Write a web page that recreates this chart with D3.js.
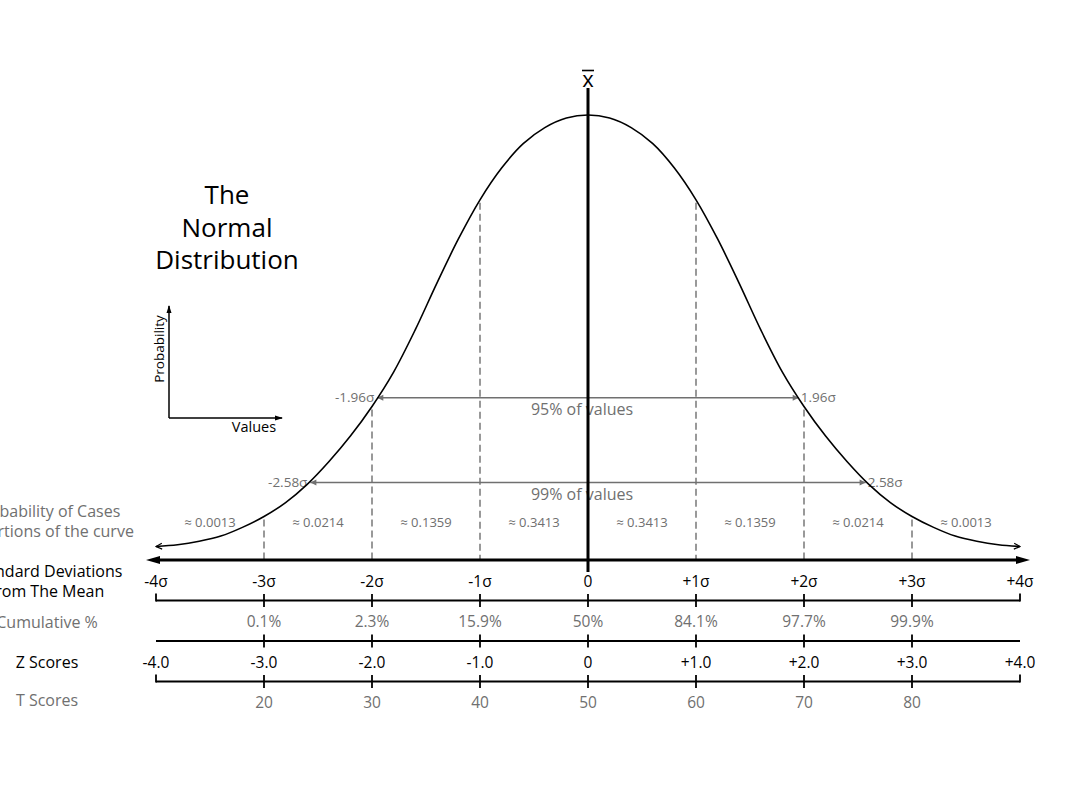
<!DOCTYPE html>
<html>
<head>
<meta charset="utf-8">
<script src="https://cdn.jsdelivr.net/npm/d3@7"></script>
<style>
  body { margin: 0; background: #fff; }
  svg text { font-family: "Open Sans", "Noto Sans", sans-serif; }
</style>
</head>
<body>
<div id="chart"></div>
<script>
// curve heights (fraction of peak), at z positions
const curveZ = [-4.0, -3.8, -3.6, -3.4, -3.2, -3.0, -2.8, -2.6, -2.4, -2.2, -2.0, -1.8, -1.6, -1.4, -1.2, -1.0, -0.8, -0.6, -0.4, -0.2, 0,
                0.2, 0.4, 0.6, 0.8, 1.0, 1.2, 1.4, 1.6, 1.8, 2.0, 2.2, 2.4, 2.6, 2.8, 3.0, 3.2, 3.4, 3.6, 3.8, 4.0];
const curveH = [0.008, 0.012, 0.020, 0.032, 0.052, 0.077, 0.109, 0.151, 0.203, 0.262, 0.330, 0.409, 0.506, 0.613, 0.715, 0.805, 0.878, 0.934, 0.971, 0.993, 1.0,
                0.993, 0.971, 0.934, 0.878, 0.805, 0.715, 0.613, 0.506, 0.409, 0.330, 0.262, 0.203, 0.151, 0.109, 0.077, 0.052, 0.032, 0.020, 0.012, 0.008];

// standard deviation row
const sigmaTicks = [-4, -3, -2, -1, 0, 1, 2, 3, 4];
const sigmaLabels = ["-4σ", "-3σ", "-2σ", "-1σ", "0", "+1σ", "+2σ", "+3σ", "+4σ"];

// dashed separators
const dashZ = [-3, -2, -1, 1, 2, 3];

// probability of cases per band
const bandCenters = [-3.5, -2.5, -1.5, -0.5, 0.5, 1.5, 2.5, 3.5];
const bandLabels = ["≈ 0.0013", "≈ 0.0214", "≈ 0.1359", "≈ 0.3413", "≈ 0.3413", "≈ 0.1359", "≈ 0.0214", "≈ 0.0013"];

// cumulative %
const cumTicks = [-3, -2, -1, 0, 1, 2, 3];
const cumLabels = ["0.1%", "2.3%", "15.9%", "50%", "84.1%", "97.7%", "99.9%"];

// z scores
const zTicks = [-4, -3, -2, -1, 0, 1, 2, 3, 4];
const zLabels = ["-4.0", "-3.0", "-2.0", "-1.0", "0", "+1.0", "+2.0", "+3.0", "+4.0"];

// t scores
const tTicks = [-3, -2, -1, 0, 1, 2, 3];
const tLabels = ["20", "30", "40", "50", "60", "70", "80"];

// confidence intervals
const ciZ = [1.96, 2.58];
const ciH = [0.350, 0.155];
const ciLabels = ["95% of values", "99% of values"];
const ciBounds = ["1.96σ", "2.58σ"];

const width = 1080, height = 810;
const gray = "#707070";

const svg = d3.select("#chart").append("svg")
    .attr("width", width)
    .attr("height", height);

const x = d3.scaleLinear().domain([-4, 4]).range([156, 1020]);
const y = d3.scaleLinear().domain([0, 1]).range([550, 115]);

// markers
const defs = svg.append("defs");
defs.append("marker")
    .attr("id", "bigArrow")
    .attr("viewBox", "0 -5 14 10")
    .attr("refX", 0).attr("refY", 0)
    .attr("markerUnits", "userSpaceOnUse")
    .attr("markerWidth", 14).attr("markerHeight", 10)
    .attr("orient", "auto-start-reverse")
    .append("path").attr("d", "M0,-4L14,0L0,4Z").attr("fill", "#000");

defs.append("marker")
    .attr("id", "openArrow")
    .attr("viewBox", "-1 -4 8 8")
    .attr("refX", 6).attr("refY", 0)
    .attr("markerUnits", "userSpaceOnUse")
    .attr("markerWidth", 8).attr("markerHeight", 8)
    .attr("orient", "auto-start-reverse")
    .append("path").attr("d", "M0,-3L6,0L0,3").attr("fill", "none").attr("stroke", "#000").attr("stroke-width", 1.2);

defs.append("marker")
    .attr("id", "grayArrow")
    .attr("viewBox", "-1 -4 8 8")
    .attr("refX", 6).attr("refY", 0)
    .attr("markerUnits", "userSpaceOnUse")
    .attr("markerWidth", 8).attr("markerHeight", 8)
    .attr("orient", "auto-start-reverse")
    .append("path").attr("d", "M0,-3L6,0L0,3Z").attr("fill", gray);

defs.append("marker")
    .attr("id", "smallArrow")
    .attr("viewBox", "0 -4 8 8")
    .attr("refX", 7).attr("refY", 0)
    .attr("markerUnits", "userSpaceOnUse")
    .attr("markerWidth", 8).attr("markerHeight", 8)
    .attr("orient", "auto-start-reverse")
    .append("path").attr("d", "M0,-2.5L8,0L0,2.5Z").attr("fill", "#000");

// lookup curve height at a z
const hAt = z => curveH[curveZ.indexOf(z)];

// dashed separators from curve to axis
svg.selectAll(".sep")
    .data(dashZ)
    .enter()
    .append("line")
    .attr("class", "sep")
    .attr("x1", d => x(d)).attr("x2", d => x(d))
    .attr("y1", d => y(hAt(d)) + 3)
    .attr("y2", 560)
    .attr("stroke", "#808080")
    .attr("stroke-width", 1.6)
    .attr("stroke-dasharray", "7,4");

// confidence interval lines
ciZ.forEach((z, i) => {
    const yy = y(ciH[i]);
    svg.append("line")
        .attr("x1", x(-z) + 1).attr("x2", x(z) - 1)
        .attr("y1", yy).attr("y2", yy)
        .attr("stroke", gray)
        .attr("stroke-width", 1.5)
        .attr("marker-start", "url(#grayArrow)")
        .attr("marker-end", "url(#grayArrow)");
    svg.append("text")
        .attr("x", x(-z) - 2).attr("y", yy + 4.5)
        .attr("text-anchor", "end")
        .attr("font-size", 13.5)
        .attr("fill", gray)
        .text("-" + ciBounds[i]);
    svg.append("text")
        .attr("x", x(z) + 1).attr("y", yy + 4.5)
        .attr("text-anchor", "start")
        .attr("font-size", 13.5)
        .attr("fill", gray)
        .text(ciBounds[i]);
    svg.append("text")
        .attr("x", 582).attr("y", yy + 17.5)
        .attr("text-anchor", "middle")
        .attr("font-size", 16)
        .attr("fill", gray)
        .text(ciLabels[i]);
});

// the bell curve
const line = d3.line()
    .x(d => x(d[0]))
    .y(d => y(d[1]))
    .curve(d3.curveCatmullRom);

svg.append("path")
    .datum(curveZ.map((z, i) => [z, curveH[i]]))
    .attr("d", line)
    .attr("fill", "none")
    .attr("stroke", "#000")
    .attr("stroke-width", 1.6)
    .attr("marker-start", "url(#openArrow)")
    .attr("marker-end", "url(#openArrow)");

// mean line and x-bar
svg.append("line")
    .attr("x1", x(0)).attr("x2", x(0))
    .attr("y1", 88).attr("y2", 572)
    .attr("stroke", "#000")
    .attr("stroke-width", 3);

svg.append("text")
    .attr("x", x(0)).attr("y", 87)
    .attr("text-anchor", "middle")
    .attr("font-size", 22)
    .text("x");
svg.append("line")
    .attr("x1", x(0) - 6).attr("x2", x(0) + 6)
    .attr("y1", 70.5).attr("y2", 70.5)
    .attr("stroke", "#000")
    .attr("stroke-width", 1.6);

// main horizontal axis with arrows
svg.append("line")
    .attr("x1", x(-4) + 4).attr("x2", x(4) - 4)
    .attr("y1", 560).attr("y2", 560)
    .attr("stroke", "#000")
    .attr("stroke-width", 3)
    .attr("marker-start", "url(#bigArrow)")
    .attr("marker-end", "url(#bigArrow)");

// band probabilities
svg.selectAll(".band")
    .data(bandCenters)
    .enter()
    .append("text")
    .attr("class", "band")
    .attr("x", d => x(d))
    .attr("y", 527)
    .attr("text-anchor", "middle")
    .attr("font-size", 13)
    .attr("fill", gray)
    .text((d, i) => bandLabels[i]);

// helper for labelled rows
function labelRow(ticks, labels, yy, color) {
    svg.append("g")
        .selectAll("text")
        .data(ticks)
        .enter()
        .append("text")
        .attr("x", d => x(d))
        .attr("y", yy)
        .attr("text-anchor", "middle")
        .attr("font-size", 15.5)
        .attr("fill", color)
        .text((d, i) => labels[i]);
}

// bracket style line with ticks
function bracket(yy, innerTicks, withEnds) {
    const g = svg.append("g").attr("stroke", "#000").attr("stroke-width", 1.8);
    g.append("line")
        .attr("x1", x(-4)).attr("x2", x(4))
        .attr("y1", yy).attr("y2", yy);
    if (withEnds) {
        g.selectAll(".end")
            .data([-4, 4])
            .enter()
            .append("line")
            .attr("x1", d => x(d)).attr("x2", d => x(d))
            .attr("y1", yy - 7).attr("y2", yy + 0.9);
    }
    g.selectAll(".tk")
        .data(innerTicks)
        .enter()
        .append("line")
        .attr("x1", d => x(d)).attr("x2", d => x(d))
        .attr("y1", yy - 6.5).attr("y2", yy + 6.5);
}

labelRow(sigmaTicks, sigmaLabels, 587, "#000");
bracket(600.5, cumTicks, true);
labelRow(cumTicks, cumLabels, 627, gray);
bracket(641, cumTicks, false);
labelRow(zTicks, zLabels, 668, "#000");
bracket(681.5, tTicks, true);
labelRow(tTicks, tLabels, 708, gray);

// left row titles
const leftX = 47;
const leftRows = [
    { lines: ["Probability of Cases", "in portions of the curve"], y: 517, color: gray },
    { lines: ["Standard Deviations", "from The Mean"], y: 577, color: "#000" },
    { lines: ["Cumulative %"], y: 628, color: gray },
    { lines: ["Z Scores"], y: 668, color: "#000" },
    { lines: ["T Scores"], y: 706, color: gray }
];
leftRows.forEach(r => {
    r.lines.forEach((t, j) => {
        svg.append("text")
            .attr("x", leftX).attr("y", r.y + j * 20)
            .attr("text-anchor", "middle")
            .attr("font-size", 16)
            .attr("fill", r.color)
            .text(t);
    });
});

// title
["The", "Normal", "Distribution"].forEach((t, i) => {
    svg.append("text")
        .attr("x", 227).attr("y", 204 + i * 32.5)
        .attr("text-anchor", "middle")
        .attr("font-size", 26)
        .attr("fill", "#000")
        .text(t);
});

// small probability/values inset
const inset = svg.append("g");
inset.append("line")
    .attr("x1", 169).attr("x2", 169)
    .attr("y1", 418).attr("y2", 306)
    .attr("stroke", "#000").attr("stroke-width", 1.5)
    .attr("marker-end", "url(#smallArrow)");
inset.append("line")
    .attr("x1", 169).attr("x2", 282)
    .attr("y1", 418).attr("y2", 418)
    .attr("stroke", "#000").attr("stroke-width", 1.5)
    .attr("marker-end", "url(#smallArrow)");
inset.append("text")
    .attr("transform", "translate(164,349) rotate(-90)")
    .attr("text-anchor", "middle")
    .attr("font-size", 13.5)
    .text("Probability");
inset.append("text")
    .attr("x", 254).attr("y", 431.5)
    .attr("text-anchor", "middle")
    .attr("font-size", 14.5)
    .text("Values");
</script>
</body>
</html>
